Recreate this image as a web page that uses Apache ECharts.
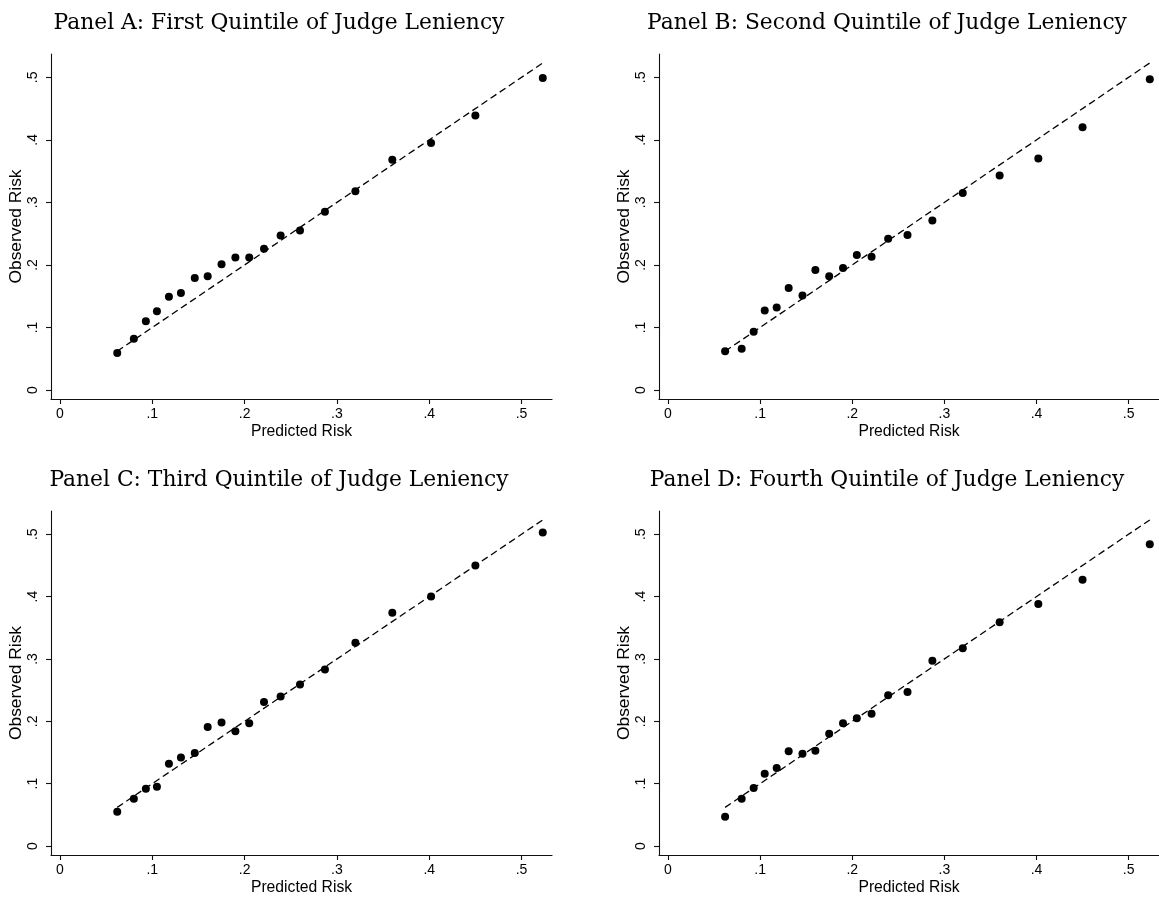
<!DOCTYPE html>
<html>
<head>
<meta charset="utf-8">
<script src="https://cdn.jsdelivr.net/npm/echarts@6/dist/echarts.min.js"></script>
<style>
html,body{margin:0;padding:0;background:#fff;}
#chart{width:1159px;height:897px;}
</style>
</head>
<body>
<div id="chart"></div>
<script>
// ---- data ----
const panelTitles = [
  'Panel A: First Quintile of Judge Leniency',
  'Panel B: Second Quintile of Judge Leniency',
  'Panel C: Third Quintile of Judge Leniency',
  'Panel D: Fourth Quintile of Judge Leniency'
];
const predictedRisk = [0.062, 0.080, 0.093, 0.105, 0.118, 0.131, 0.146, 0.160, 0.175, 0.190,
                       0.205, 0.221, 0.239, 0.260, 0.287, 0.320, 0.360, 0.402, 0.450, 0.523];
const observedA = [0.059, 0.082, 0.110, 0.126, 0.149, 0.155, 0.179, 0.182, 0.201, 0.212,
                   0.212, 0.226, 0.247, 0.255, 0.285, 0.318, 0.368, 0.395, 0.439, 0.499];
const observedB = [0.062, 0.066, 0.093, 0.127, 0.132, 0.163, 0.151, 0.192, 0.182, 0.195,
                   0.216, 0.213, 0.242, 0.248, 0.271, 0.315, 0.343, 0.370, 0.420, 0.497];
const observedC = [0.055, 0.076, 0.092, 0.095, 0.132, 0.142, 0.149, 0.191, 0.198, 0.184,
                   0.197, 0.231, 0.240, 0.259, 0.283, 0.326, 0.374, 0.400, 0.450, 0.503];
const observedD = [0.047, 0.076, 0.093, 0.116, 0.125, 0.152, 0.148, 0.153, 0.180, 0.197,
                   0.205, 0.212, 0.242, 0.247, 0.297, 0.317, 0.359, 0.388, 0.427, 0.484];
const tickValues = [0, 0.1, 0.2, 0.3, 0.4, 0.5];
const tickLabels = ['0', '.1', '.2', '.3', '.4', '.5'];
const xAxisTitle = 'Predicted Risk';
const yAxisTitle = 'Observed Risk';

// ---- layout ----
const observedSets = [observedA, observedB, observedC, observedD];
const grids = [
  {left: 51, top: 54, width: 501, height: 345},
  {left: 659, top: 54, width: 501, height: 345},
  {left: 51, top: 511, width: 501, height: 345},
  {left: 659, top: 511, width: 501, height: 345}
];
const titlePos = [[279, 23], [887, 23], [279, 480], [887, 480]];
const sans = '"Liberation Sans", Arial, Helvetica, sans-serif';
const labelFmt = v => {
  const i = tickValues.findIndex(t => Math.abs(t - v) < 1e-9);
  return i >= 0 ? tickLabels[i] : '';
};
const axisLineStyle = {color: '#111', width: 1.1};

const xAxes = [], yAxes = [], series = [], graphics = [];
grids.forEach((g, i) => {
  xAxes.push({
    type: 'value', gridIndex: i, min: -0.00975, max: 0.533,
    axisLine: {show: true, lineStyle: axisLineStyle, onZero: false},
    axisTick: {show: true, length: 5, lineStyle: axisLineStyle, customValues: tickValues},
    axisLabel: {show: true, margin: 8, fontFamily: sans, fontSize: 14, color: '#000',
                customValues: tickValues, formatter: labelFmt},
    splitLine: {show: false},
    name: xAxisTitle, nameLocation: 'middle', nameGap: 25,
    nameTextStyle: {fontFamily: sans, fontSize: 15.7, color: '#000'}
  });
  yAxes.push({
    type: 'value', gridIndex: i, min: -0.01439, max: 0.5373,
    axisLine: {show: true, lineStyle: axisLineStyle, onZero: false},
    axisTick: {show: true, length: 5, lineStyle: axisLineStyle, customValues: tickValues},
    axisLabel: {show: true, margin: 11, rotate: 90, fontFamily: sans, fontSize: 14, color: '#000',
                customValues: tickValues, formatter: labelFmt},
    splitLine: {show: false},
    name: yAxisTitle, nameLocation: 'middle', nameGap: 26, nameRotate: 90,
    nameTextStyle: {fontFamily: sans, fontSize: 17.4, color: '#000'}
  });
  const ends = [predictedRisk[0], predictedRisk[predictedRisk.length - 1]];
  series.push({
    type: 'line', xAxisIndex: i, yAxisIndex: i,
    data: ends.map(v => [v, v]),
    showSymbol: false, symbol: 'none', silent: true, animation: false,
    lineStyle: {color: '#000', width: 1.3, type: [7, 4]}
  });
  series.push({
    type: 'scatter', xAxisIndex: i, yAxisIndex: i,
    data: predictedRisk.map((x, k) => [x, observedSets[i][k]]),
    symbol: 'circle', symbolSize: 8, animation: false,
    itemStyle: {color: '#000', opacity: 1}
  });
  graphics.push({
    type: 'text', x: titlePos[i][0], y: titlePos[i][1],
    style: {text: panelTitles[i], font: '21.8px "DejaVu Serif", serif', fill: '#000',
            align: 'center', verticalAlign: 'middle'}
  });
});

const chart = echarts.init(document.getElementById('chart'), null, {renderer: 'canvas'});
chart.setOption({
  backgroundColor: '#fff',
  animation: false,
  grid: grids,
  xAxis: xAxes,
  yAxis: yAxes,
  series: series,
  graphic: graphics
});
</script>
</body>
</html>
